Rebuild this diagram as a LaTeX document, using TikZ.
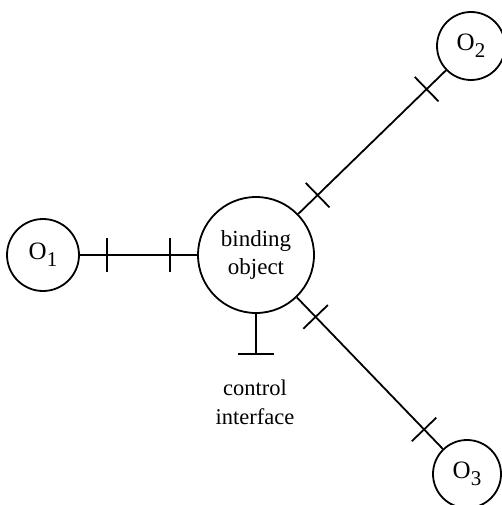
\documentclass[tikz,border=0pt]{standalone}
\usepackage{fontspec}
\setmainfont{Liberation Serif}
\usetikzlibrary{decorations.markings}

\newcommand{\objname}[1]{{\fontsize{25}{25}\selectfont O}\raisebox{-7pt}{\fontsize{21}{21}\selectfont #1}}

\tikzset{
  stroke/.style={line width=1.8pt},
  obj/.style={draw, circle, stroke, inner sep=0pt, minimum size=70pt},
  binder/.style={draw, circle, stroke, inner sep=0pt, minimum size=116pt,
                 align=center, font=\fontsize{23}{28}\selectfont},
  wire/.style={stroke,
    postaction={decorate, decoration={markings,
      mark=at position 27pt with {\draw[stroke] (0,-17pt) -- (0,17pt);},
      mark=at position -27pt with {\draw[stroke] (0,-17pt) -- (0,17pt);}}}},
  lbl/.style={align=center, font=\fontsize{22.5}{29}\selectfont}
}

\begin{document}
\begin{tikzpicture}[x=1pt, y=-1pt]
  \useasboundingbox (0,0) rectangle (501,505);

  % binding object and the bound objects
  \node[binder] (B) at (256,255) {binding\\object};
  \node[obj, minimum size=72pt] (O1) at (43,255) {\objname{1}};
  \node[obj, minimum size=68pt] (O2) at (471,46) {\objname{2}};
  \node[obj, minimum size=68pt] (O3) at (467,474) {\objname{3}};

  % bindings with their interface ticks
  \draw[wire] (O1) -- (B);
  \draw[wire] (B) -- (O2);
  \draw[wire] (B) -- (O3);

  % control interface stub
  \coordinate (ctl) at ([yshift=-40pt]B.south);
  \draw[stroke] (B.south) -- (ctl);
  \draw[stroke] ([xshift=-18pt]ctl) -- ([xshift=18pt]ctl);
  \node[lbl] (ctltext) at (255,402) {control\\interface};
\end{tikzpicture}
\end{document}
